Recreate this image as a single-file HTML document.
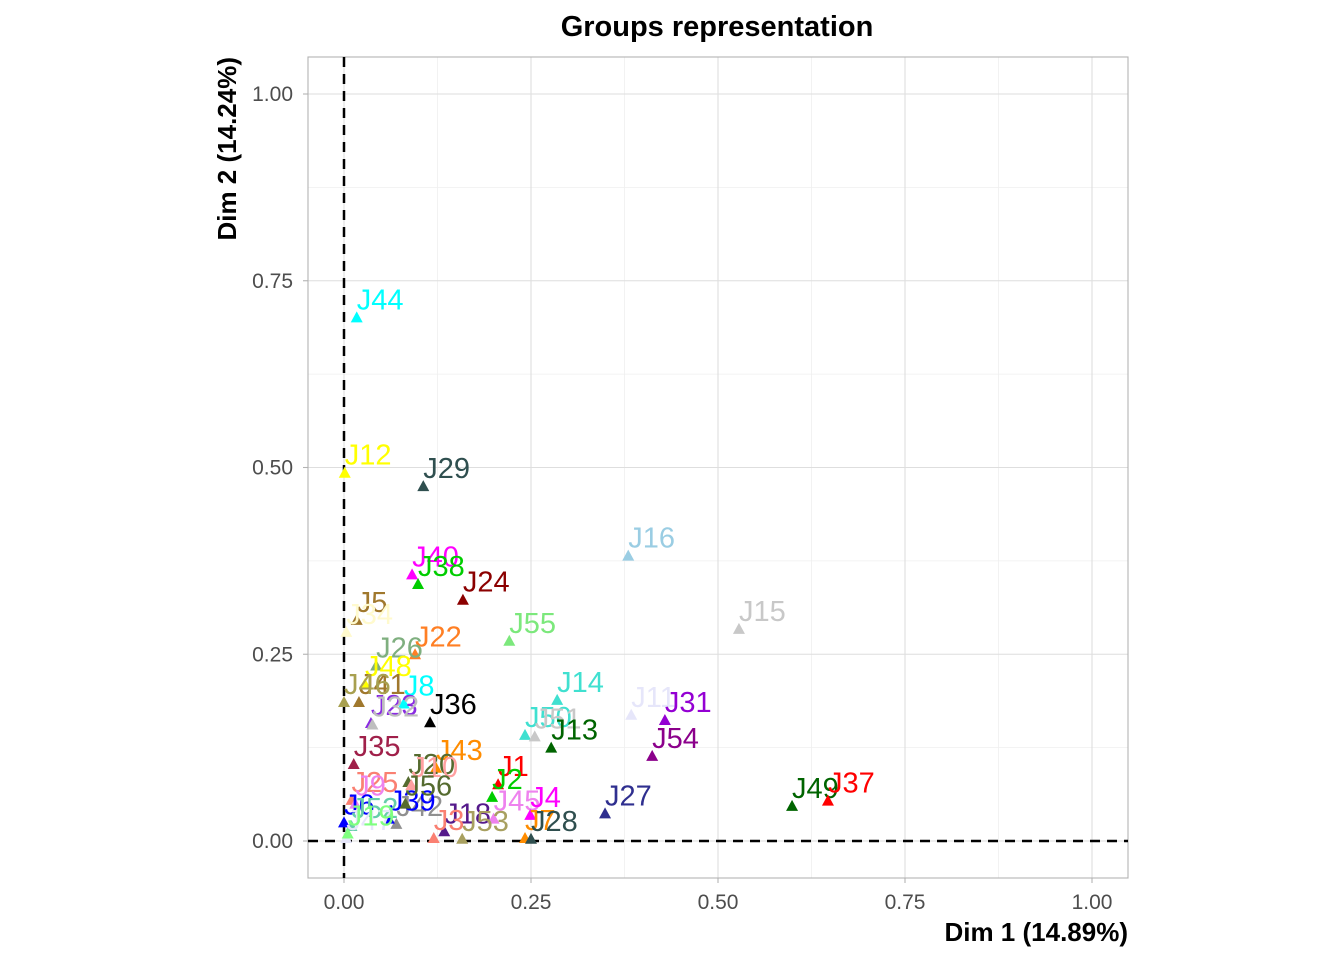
<!DOCTYPE html>
<html><head><meta charset="utf-8"><style>
html,body{margin:0;padding:0;background:#fff;}
svg text{font-family:"Liberation Sans",sans-serif;}
</style></head><body>
<svg id="chart" width="1344" height="960" xmlns="http://www.w3.org/2000/svg">
<text x="717" y="36" text-anchor="middle" font-size="29" font-weight="bold">Groups representation</text>
<g id="grid"></g>
<g id="axes"></g>
<g id="points"></g>
<text x="1128" y="941" text-anchor="end" font-size="26" font-weight="bold">Dim 1 (14.89%)</text>
<text transform="translate(236,57) rotate(-90)" text-anchor="end" font-size="26" font-weight="bold">Dim 2 (14.24%)</text>
</svg>
<script>
const labels = ["J44","J12","J29","J16","J15","J40","J38","J24","J5","J34","J22","J55","J26","J48","J41","J46","J8","J23","J32","J36","J14","J11","J31","J50","J51","J13","J54","J35","J43","J20","J10","J1","J2","J49","J37","J27","J45","J4","J7","J28","J18","J3","J53","J42","J39","J56","J25","J9","J6","J52","J47","J19"];
const xVals = [0.017,0.001,0.106,0.380,0.528,0.091,0.099,0.159,0.017,0.003,0.095,0.221,0.043,0.028,0.020,0.000,0.080,0.036,0.038,0.115,0.285,0.384,0.429,0.242,0.255,0.277,0.412,0.013,0.123,0.086,0.090,0.206,0.198,0.599,0.647,0.349,0.200,0.249,0.242,0.250,0.134,0.120,0.158,0.070,0.060,0.082,0.010,0.015,0.000,0.010,0.003,0.005];
const yVals = [0.701,0.493,0.475,0.382,0.284,0.357,0.344,0.323,0.296,0.280,0.250,0.268,0.235,0.210,0.186,0.186,0.184,0.158,0.156,0.159,0.189,0.169,0.162,0.142,0.140,0.125,0.114,0.103,0.098,0.079,0.075,0.076,0.059,0.047,0.054,0.037,0.030,0.035,0.004,0.003,0.013,0.004,0.003,0.023,0.030,0.050,0.055,0.050,0.025,0.020,0.004,0.010];
const colors = ["#00FFFF","#FFFF00","#2F4F4F","#9ACDE3","#C8C8C8","#FF00FF","#00CD00","#8B0000","#A0782D","#FFFACD","#FF7F24","#7CE87C","#7FAF7F","#FFFF00","#A0782D","#A8A050","#00FFFF","#8A2BE2","#BEBEBE","#000000","#40E0D0","#E6E6FA","#9400D3","#40E0D0","#C8C8C8","#006400","#8B008B","#A0204A","#FF8C00","#556B2F","#FFA0A0","#FF0000","#00CD00","#006400","#FF0000","#2F2F8F","#EE82EE","#FF00FF","#FF8C00","#2F4F4F","#551A8B","#FA8072","#A8A060","#909090","#0000FF","#556B2F","#FA8072","#EE82EE","#0000FF","#66CDAA","#E6E6FA","#7FFF7F"];
const xTicks = [0,0.25,0.5,0.75,1];
const yTicks = [0,0.25,0.5,0.75,1];
const xTickLabels = ["0.00","0.25","0.50","0.75","1.00"];
const yTickLabels = ["0.00","0.25","0.50","0.75","1.00"];

const L=308,R=1128,T=57,B=878;
const sx = v => 344 + v*748;
const sy = v => 841 - v*747;
const NS="http://www.w3.org/2000/svg";
function mk(parent,tag,attrs){const e=document.createElementNS(NS,tag);for(const k in attrs)e.setAttribute(k,attrs[k]);parent.appendChild(e);return e;}
const grid=document.getElementById('grid'), axes=document.getElementById('axes'), pts=document.getElementById('points');
for(let i=0;i<xTicks.length-1;i++){
  const m=(xTicks[i]+xTicks[i+1])/2;
  const l=mk(grid,'line',{x1:sx(m),x2:sx(m),y1:T,y2:B,stroke:'#efefef','stroke-width':0.8});
  
  
}
for(let i=0;i<yTicks.length-1;i++){
  const m=(yTicks[i]+yTicks[i+1])/2;
  const l=mk(grid,'line',{x1:L,x2:R,y1:sy(m),y2:sy(m),stroke:'#efefef','stroke-width':0.8});
  
  
}
xTicks.forEach((t,i)=>{
  const l=mk(grid,'line',{x1:sx(t),x2:sx(t),y1:T,y2:B,stroke:'#dedede','stroke-width':1.1});
  
  
  const k=mk(axes,'line',{x1:sx(t),x2:sx(t),y1:B,y2:B+5,stroke:'#b3b3b3','stroke-width':1.1});
  
  
  const tx=mk(axes,'text',{x:sx(t),y:B+31,'text-anchor':'middle','font-size':21,fill:'#4d4d4d'});
  tx.textContent=xTickLabels[i];
  
  
});
yTicks.forEach((t,i)=>{
  const l=mk(grid,'line',{x1:L,x2:R,y1:sy(t),y2:sy(t),stroke:'#dedede','stroke-width':1.1});
  
  
  const k=mk(axes,'line',{x1:L-5,x2:L,y1:sy(t),y2:sy(t),stroke:'#b3b3b3','stroke-width':1.1});
  
  
  const tx=mk(axes,'text',{x:L-15,y:sy(t)+7,'text-anchor':'end','font-size':21,fill:'#4d4d4d'});
  tx.textContent=yTickLabels[i];
  
  
});
const border=mk(axes,'rect',{x:L,y:T,width:R-L,height:B-T,fill:'none',stroke:'#b3b3b3','stroke-width':1.1});


const hz=mk(axes,'line',{x1:L,x2:R,y1:sy(0),y2:sy(0),stroke:'#000','stroke-width':2.5,'stroke-dasharray':'10,7'});


const vz=mk(axes,'line',{x1:sx(0),x2:sx(0),y1:T,y2:B,stroke:'#000','stroke-width':2.5,'stroke-dasharray':'10,7'});


labels.forEach((lab,i)=>{
  const x=sx(xVals[i]), y=sy(yVals[i]);
  const p=mk(pts,'path',{d:`M${x},${y-6}L${x+6},${y+5}L${x-6},${y+5}Z`,fill:colors[i]});
  
  
  const t=mk(pts,'text',{x:x,y:y-8,'font-size':29,fill:colors[i]});
  t.textContent=lab;
  
  
});
</script>
</body></html>
